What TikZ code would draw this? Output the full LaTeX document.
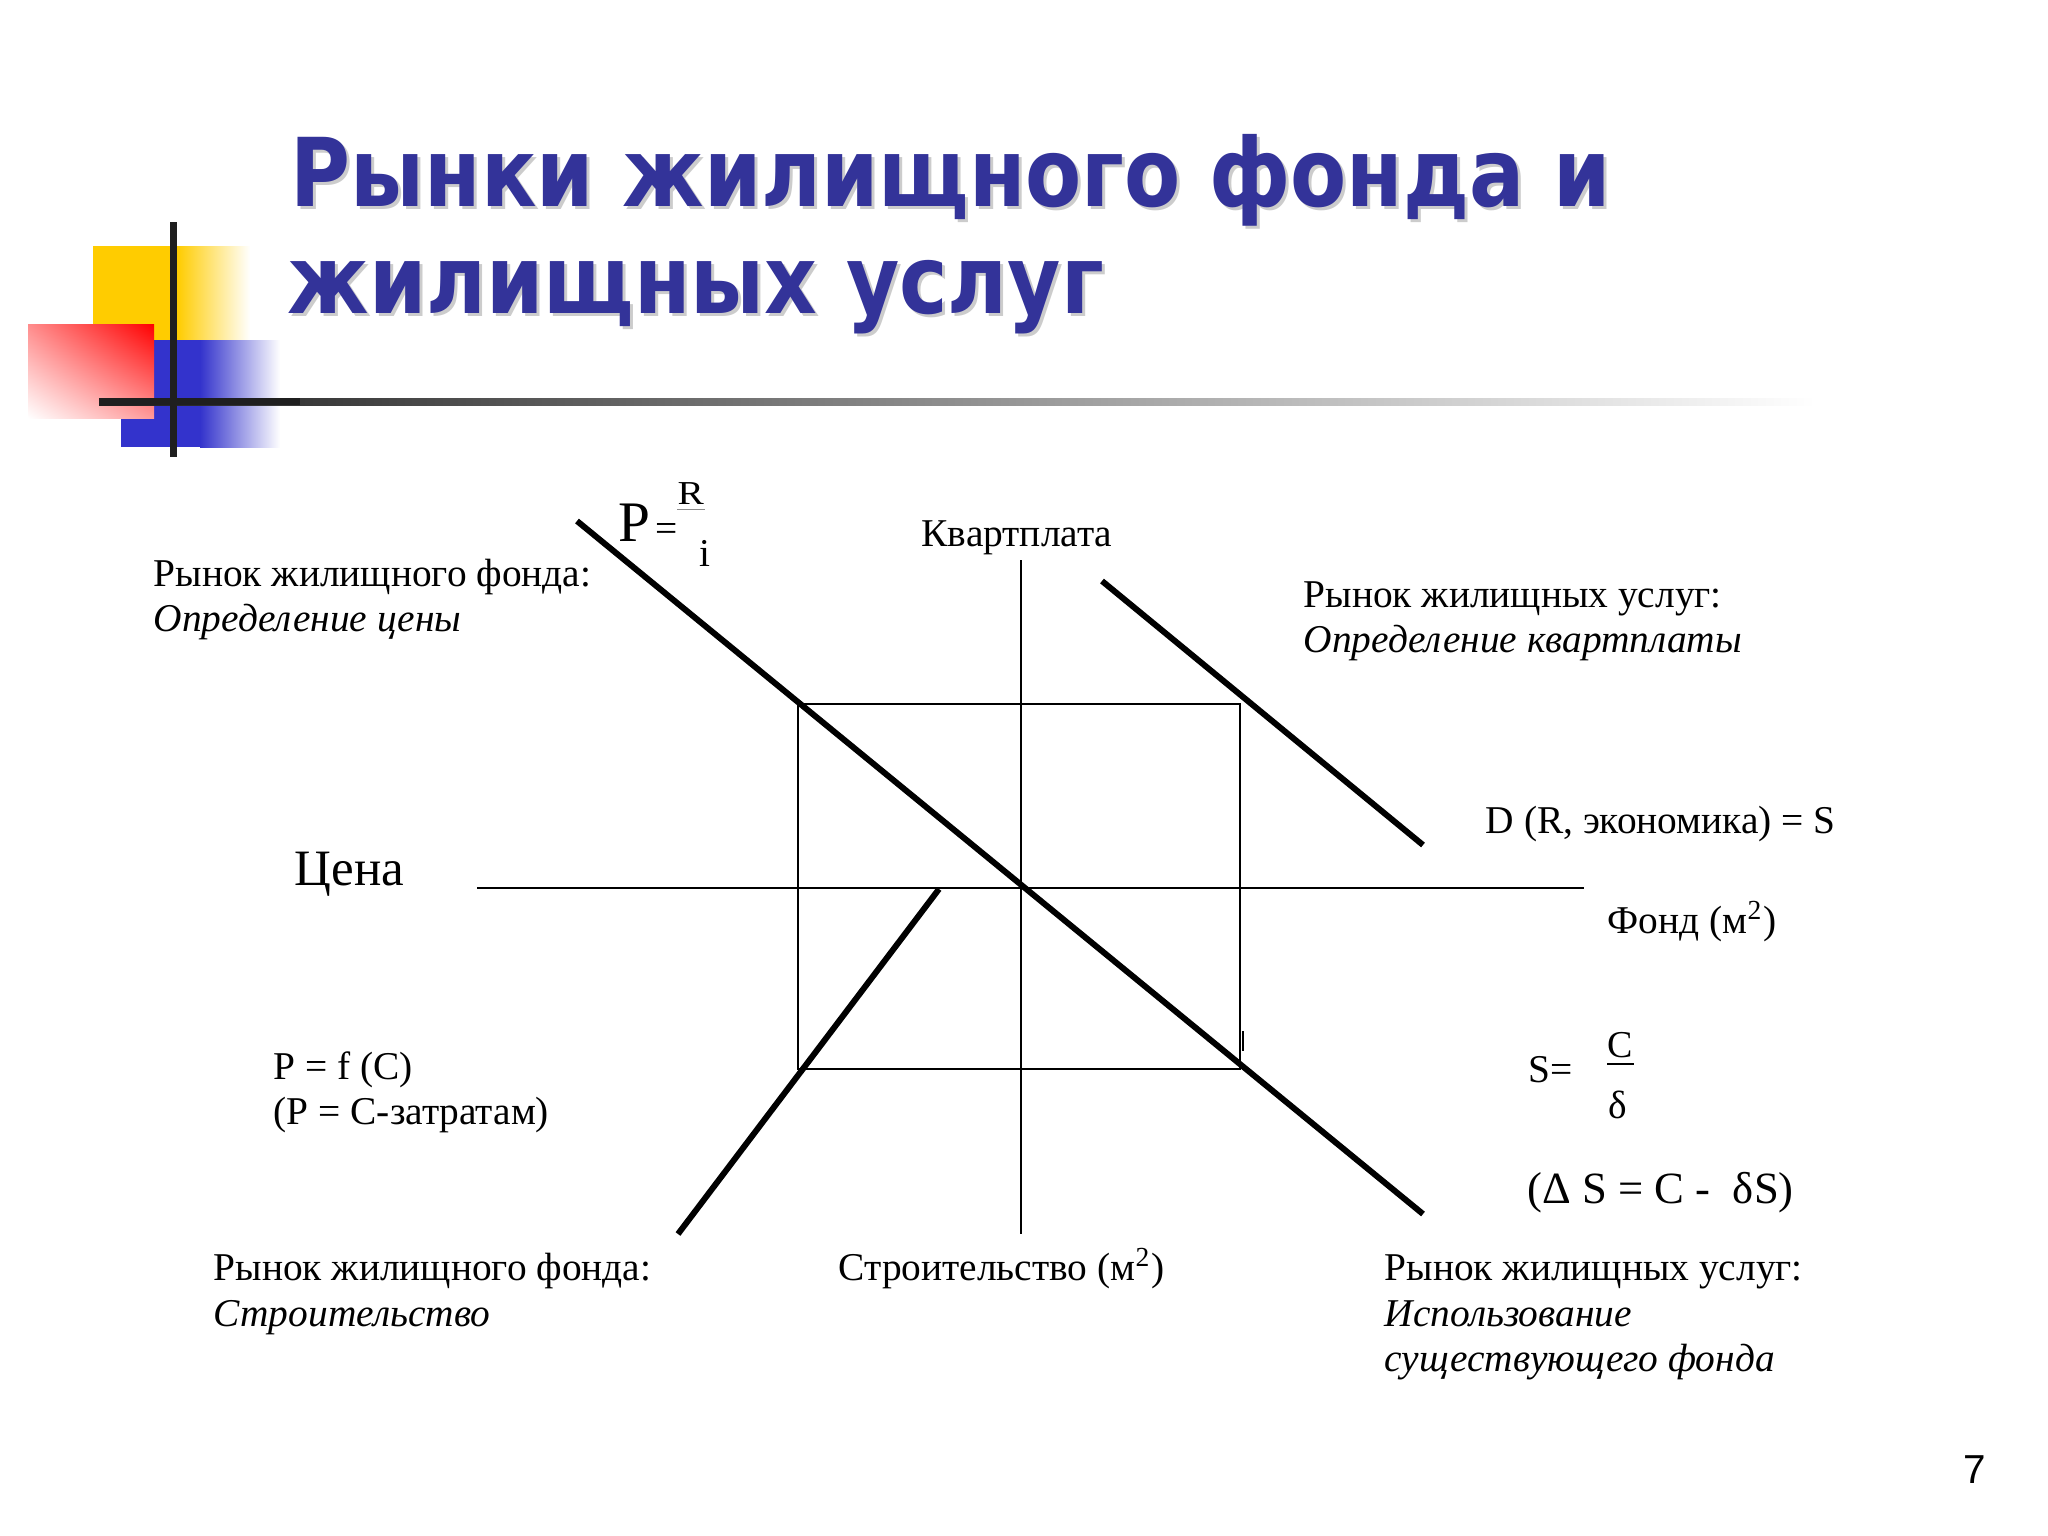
\documentclass[tikz,border=0pt]{standalone}
\usepackage{fontspec}
\setmainfont{Liberation Serif}
\newfontfamily\titlefont{DejaVu Sans}
\newfontfamily\numfont{Liberation Sans}
\usetikzlibrary{positioning, calc, shadings}
\definecolor{titleblue}{RGB}{51,51,153}
\definecolor{decoyellow}{RGB}{255,204,0}
\definecolor{decoblue}{RGB}{51,51,204}

\begin{document}
\begin{tikzpicture}[x=0.01cm, y=-0.01cm]
        \tikzstyle{lbl}=[inner sep=0, anchor=base west, font=\fontsize{11.2}{13}\selectfont];
        \tikzstyle{ttl}=[inner sep=0, anchor=base west, text=titleblue, font=\titlefont\bfseries\fontsize{27}{30}\selectfont];
        \tikzstyle{axis}=[line width=0.6pt];
        \tikzstyle{curve}=[line width=1.7pt];
        \useasboundingbox (0,0) rectangle (2048,1536);
        \fill[white] (0,0) rectangle (2048,1536);

        % corner decoration
        \fill[decoyellow] (93,246) rectangle (177,340);
        \shade[left color=decoyellow, right color=white] (177,246) rectangle (250,340);
        \fill[decoblue] (121,340) rectangle (200,447);
        \shade[left color=decoblue, right color=white] (200,340) rectangle (280,447);
        \shade[upper left=red!45, upper right=red, lower left=white, lower right=red!40] (28,324) rectangle (154,418);
        \shade[left color=black!88, middle color=black!70, right color=white] (99,398) rectangle (1815,405);
        \fill[black!88] (99,398) rectangle (300,405);
        \fill[black!88] (170,222) rectangle (177,457);

        % title
        \node[ttl, text=black!20] at (293,209) {\scalebox{0.862}[1]{Рынки жилищного фонда и}};
        \node[ttl, text=black!20] at (290,316) {\scalebox{0.862}[1]{жилищных услуг}};
        \node[ttl] (title1) at (290,206) {\scalebox{0.862}[1]{Рынки жилищного фонда и}};
        \node[ttl] (title2) at (287,313) {\scalebox{0.862}[1]{жилищных услуг}};

        % axes and box
        \coordinate (hl) at (477,888);
        \coordinate (hr) at (1584,888);
        \coordinate (vt) at (1021,560);
        \coordinate (vb) at (1021,1234);
        \coordinate (boxnw) at (798,704);
        \coordinate (boxse) at (1240,1069);
        \coordinate (tickt) at (1243,1031);
        \coordinate (tickb) at (1243,1051);
        \draw[axis] (hl) -- (hr);
        \draw[axis] (vt) -- (vb);
        \draw[axis] (boxnw) rectangle (boxse);
        \draw[line width=0.8pt] (tickt) -- (tickb);

        % curves
        \coordinate (demt) at (577,521);
        \coordinate (demb) at (1423,1214);
        \coordinate (rentt) at (1102,581);
        \coordinate (rentb) at (1423,845);
        \coordinate (buildt) at (939,889);
        \coordinate (buildb) at (678,1234);
        \path[curve]
        (demt) edge (demb)
        (rentt) edge (rentb)
        (buildt) edge (buildb);

        % formulas
        \node[lbl, font=\fontsize{16.3}{18}\selectfont] (pbig) at (618,541) {P};
        \node[lbl, right=1pt of pbig.base east, anchor=base west] (peq) {=};
        \node[lbl] (rnum) at (677,504) {\scalebox{1}[0.85]{R}};
        \node[lbl] (iden) at (699,566) {i};
        \draw[black!45, line width=0.3pt] ([yshift=-1.5pt]rnum.base west) -- ([yshift=-1.5pt]rnum.base east);
        \node[lbl] (seq) at (1528,1082) {S=};
        \node[lbl, font=\fontsize{10.8}{13}\selectfont] (cnum) at (1607,1057) {C};
        \node[lbl] (dden) at (1608,1118) {δ};
        \draw[line width=0.6pt] ([yshift=-2pt]cnum.base west) -- ([yshift=-2pt]cnum.base east);
        \node[lbl, font=\fontsize{12.7}{15}\selectfont] (dels) at (1527,1203) {(Δ S = C -\ \ δS)};

        % labels
        \node[lbl] (kvart) at (921,546) {Квартплата};
        \node[lbl] (fondt1) at (153,586) {Рынок жилищного фонда:};
        \node[lbl] (fondt2) at (153,631) {\itshape Определение цены};
        \node[lbl] (uslt1) at (1303,607) {Рынок жилищных услуг:};
        \node[lbl] (uslt2) at (1303,652) {\itshape Определение квартплаты};
        \node[lbl] (dres) at (1485,833) {D (R, экономика) = S};
        \node[lbl] (fond) at (1607,933) {Фонд (м\textsuperscript{2})};
        \node[lbl, font=\fontsize{14.5}{17}\selectfont] (price) at (294,885) {Цена};
        \node[lbl] (pf1) at (273,1079) {P = f (C)};
        \node[lbl] (pf2) at (273,1124) {(P = C-затратам)};
        \node[lbl] (fondb1) at (213,1280) {Рынок жилищного фонда:};
        \node[lbl] (fondb2) at (213,1326) {\itshape Строительство};
        \node[lbl] (build) at (838,1280) {Строительство (м\textsuperscript{2})};
        \node[lbl] (uslb1) at (1384,1280) {Рынок жилищных услуг:};
        \node[lbl] (uslb2) at (1384,1326) {\itshape Использование};
        \node[lbl] (uslb3) at (1384,1371) {\itshape существующего фонда};
        \node[lbl, font=\numfont\fontsize{11.5}{13}\selectfont] (pagenum) at (1963,1483) {7};
      \end{tikzpicture}
\end{document}
